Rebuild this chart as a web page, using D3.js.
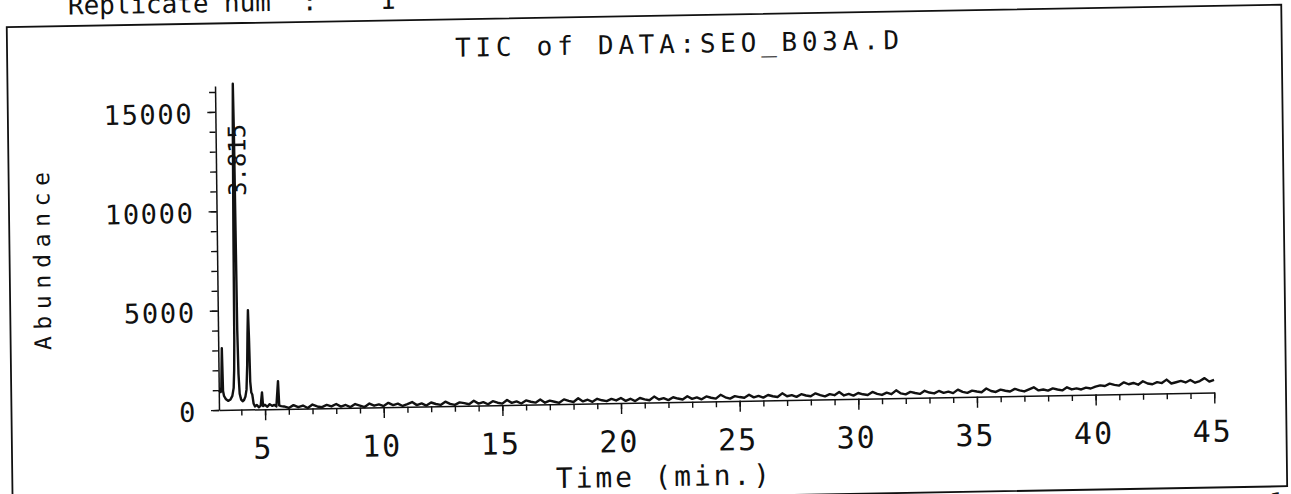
<!DOCTYPE html>
<html><head><meta charset="utf-8">
<script src="https://cdn.jsdelivr.net/npm/d3@7"></script>
<style>html,body{margin:0;padding:0;background:#fff;overflow:hidden}svg{display:block}</style>
</head><body>
<svg id="c" width="1291" height="494"></svg>
<script>
// ---------- data ----------
const titleText = "TIC of DATA:SEO_B03A.D";
const headerText = "Replicate num  :    1";
const footerText = "Page 1";
const xAxisTitle = "Time (min.)";
const yAxisTitle = "Abundance";
const xMajorTicks = [5, 10, 15, 20, 25, 30, 35, 40, 45];
const yMajorTicks = [0, 5000, 10000, 15000];
const peakTimes = [3.82];
const peakTexts = ["3.815"];
// early (peak) part of the TIC trace: [time (min), abundance]
const peakRegion = [
  [3.06,1000],[3.10,950],[3.14,900],[3.17,1150],[3.21,3100],[3.24,950],[3.28,700],[3.35,550],
  [3.45,450],[3.55,520],[3.63,700],[3.69,1100],[3.72,2000],[3.74,3500],[3.76,9000],[3.79,14500],
  [3.81,16400],[3.83,14000],[3.85,9000],[3.87,4000],[3.90,1800],[3.94,800],[4.00,500],[4.06,420],
  [4.12,480],[4.18,650],[4.23,1000],[4.27,2200],[4.30,3800],[4.33,5000],[4.36,3600],[4.39,1400],
  [4.43,850],[4.47,750],[4.52,300],[4.58,150],[4.66,220],[4.74,100],[4.82,180],[4.88,850],
  [4.92,160],[5.00,220],[5.10,120],[5.20,250],[5.30,160],[5.40,210],[5.48,130],[5.56,1400],
  [5.60,180],[5.68,140]
];
// noisy baseline of the TIC trace: [time (min), abundance]
const baselineRegion = [
  [5.8,120],[6.0,40],[6.2,180],[6.4,70],[6.6,150],[6.8,20],[7.0,190],[7.2,90],[7.4,50],[7.6,160],
  [7.8,80],[8.0,200],[8.2,60],[8.4,140],[8.6,30],[8.8,180],[9.0,100],[9.2,20],[9.4,190],[9.6,80],
  [9.8,140],[10.0,50],[10.2,210],[10.4,90],[10.6,160],[10.8,40],[11.0,130],[11.2,230],[11.4,70],[11.6,150],
  [11.8,40],[12.0,190],[12.2,110],[12.4,60],[12.6,220],[12.8,100],[13.0,50],[13.2,170],[13.4,130],[13.6,70],
  [13.8,240],[14.0,90],[14.2,160],[14.4,50],[14.6,200],[14.8,120],[15.0,70],[15.2,250],[15.4,100],[15.6,170],
  [15.8,60],[16.0,210],[16.2,140],[16.4,90],[16.6,240],[16.8,80],[17.0,180],[17.2,120],[17.4,60],[17.6,230],
  [17.8,150],[18.0,90],[18.2,270],[18.4,110],[18.6,190],[18.8,80],[19.0,230],[19.2,150],[19.4,100],[19.6,210],
  [19.8,130],[20.0,250],[20.2,100],[20.4,200],[20.6,80],[20.8,230],[21.0,160],[21.2,110],[21.4,290],[21.6,140],
  [21.8,200],[22.0,100],[22.2,240],[22.4,170],[22.6,120],[22.8,280],[23.0,140],[23.2,210],[23.4,110],[23.6,250],
  [23.8,180],[24.0,130],[24.2,320],[24.4,190],[24.6,120],[24.8,240],[25.0,190],[25.2,150],[25.4,300],[25.6,160],
  [25.8,230],[26.0,140],[26.2,270],[26.4,200],[26.6,160],[26.8,340],[27.0,190],[27.2,240],[27.4,150],[27.6,280],
  [27.8,210],[28.0,170],[28.2,310],[28.4,220],[28.6,150],[28.8,260],[29.0,200],[29.2,360],[29.4,180],[29.6,250],
  [29.8,160],[30.0,290],[30.2,220],[30.4,180],[30.6,330],[30.8,230],[31.0,170],[31.2,280],[31.4,200],[31.6,390],
  [31.8,230],[32.0,180],[32.2,300],[32.4,240],[32.6,190],[32.8,340],[33.0,250],[33.2,200],[33.4,320],[33.6,220],
  [33.8,280],[34.0,200],[34.2,370],[34.4,250],[34.6,200],[34.8,310],[35.0,260],[35.2,220],[35.4,400],[35.6,270],
  [35.8,220],[36.0,330],[36.2,270],[36.4,230],[36.6,360],[36.8,280],[37.0,220],[37.2,320],[37.4,420],[37.6,260],
  [37.8,300],[38.0,240],[38.2,350],[38.4,290],[38.6,240],[38.8,390],[39.0,280],[39.2,330],[39.4,270],[39.6,360],
  [39.8,310],[40.0,400],[40.2,460],[40.4,420],[40.6,540],[40.8,470],[41.0,430],[41.2,590],[41.4,490],[41.6,550],
  [41.8,460],[42.0,630],[42.2,510],[42.4,470],[42.6,570],[42.8,520],[43.0,690],[43.2,490],[43.4,550],[43.6,610],
  [43.8,530],[44.0,650],[44.2,510],[44.4,590],[44.6,730],[44.8,550],[45.0,630]
];

// ---------- drawing ----------
const ink = "#111";
const mono = "'DejaVu Sans Mono', 'Liberation Mono', monospace";
const svg = d3.select("#c");
svg.append("rect").attr("width",1291).attr("height",494).attr("fill","#fff");

// the scanned page is slightly tilted; draw upright and tilt the whole group
const g = svg.append("g")
  .attr("transform","translate(219,410) matrix(1,-0.0176,0.0123,1,0,0) translate(-219,-410)");

const x = d3.scaleLinear().domain([3.06, 45]).range([219, 1214.2]);
const y = d3.scaleLinear().domain([0, 16300]).range([410, 86]);

// frame
g.append("rect").attr("x",11.5).attr("y",23.5).attr("width",1274.5).attr("height",481.5)
  .attr("fill","none").attr("stroke",ink).attr("stroke-width",1.8);

// header / footer (cut by the page edges in the scan)
g.append("text").attr("x",73).attr("y",12).attr("font-family",mono).attr("font-size",26)
  .attr("fill",ink).attr("textLength",327.6).attr("lengthAdjust","spacing")
  .style("white-space","pre").text(headerText);
g.append("text").attr("x",1189.5).attr("y",530).attr("font-family",mono).attr("font-size",26)
  .attr("fill",ink).attr("textLength",93.6).attr("lengthAdjust","spacing").text(footerText);

// title
g.append("text").attr("x",459.5).attr("y",61).attr("font-family",mono).attr("font-size",26)
  .attr("fill",ink).attr("textLength",444).attr("lengthAdjust","spacing").text(titleText);

// y axis: minor + major ticks
const yMinor = d3.range(0, 16001, 1000);
g.append("g").attr("transform",`translate(${x(3.06)},0)`)
  .call(d3.axisLeft(y).tickValues(yMinor).tickSize(6).tickSizeOuter(0).tickFormat(""));
const yAxisMajor = g.append("g").attr("transform",`translate(${x(3.06)},0)`)
  .call(d3.axisLeft(y).tickValues(yMajorTicks).tickSize(8).tickSizeOuter(0).tickPadding(14)
    .tickFormat(d => String(d)));
yAxisMajor.select(".domain").remove();
yAxisMajor.selectAll("text").attr("font-family",mono).attr("font-size",27)
  .attr("fill",ink).attr("dy","0.40em").style("letter-spacing","1.7px");

// x axis: minor + major ticks
const xMinor = d3.range(4, 46, 1);
g.append("g").attr("transform",`translate(0,${y(0)})`)
  .call(d3.axisBottom(x).tickValues(xMinor).tickSize(6).tickSizeOuter(0).tickFormat(""));
const xAxisMajor = g.append("g").attr("transform",`translate(0,${y(0)})`)
  .call(d3.axisBottom(x).tickValues(xMajorTicks).tickSize(11).tickSizeOuter(0).tickPadding(17)
    .tickFormat(d => String(d)));
xAxisMajor.select(".domain").remove();
xAxisMajor.selectAll("text").attr("font-family",mono).attr("font-size",30)
  .attr("fill",ink).attr("x",-2.5).style("letter-spacing","2px");

g.selectAll(".domain").attr("stroke",ink).attr("stroke-width",1.5);
g.selectAll(".tick line").attr("stroke",ink).attr("stroke-width",1.4);

// axis titles
g.append("text").attr("transform","translate(52,347) rotate(-90)")
  .attr("font-family",mono).attr("font-size",23).attr("fill",ink)
  .attr("textLength",178).attr("lengthAdjust","spacing").text(yAxisTitle);
g.append("text").attr("x",555).attr("y",494)
  .attr("font-family",mono).attr("font-size",28).attr("fill",ink)
  .attr("textLength",214).attr("lengthAdjust","spacing").style("white-space","pre").text(xAxisTitle);

// trace
const trace = peakRegion.concat(baselineRegion);
g.append("path").datum(trace)
  .attr("d", d3.line().x(d => x(d[0])).y(d => y(d[1])))
  .attr("fill","none").attr("stroke",ink).attr("stroke-width",2.4)
  .attr("stroke-linejoin","round");

// peak retention-time label
peakTimes.forEach((t, i) => {
  g.append("text")
    .attr("transform",`translate(${x(t)+11.5},${y(10750)}) rotate(-90)`)
    .attr("font-family",mono).attr("font-size",24).attr("fill",ink)
    .attr("textLength",72).attr("lengthAdjust","spacing").text(peakTexts[i]);
});
</script>
</body></html>
